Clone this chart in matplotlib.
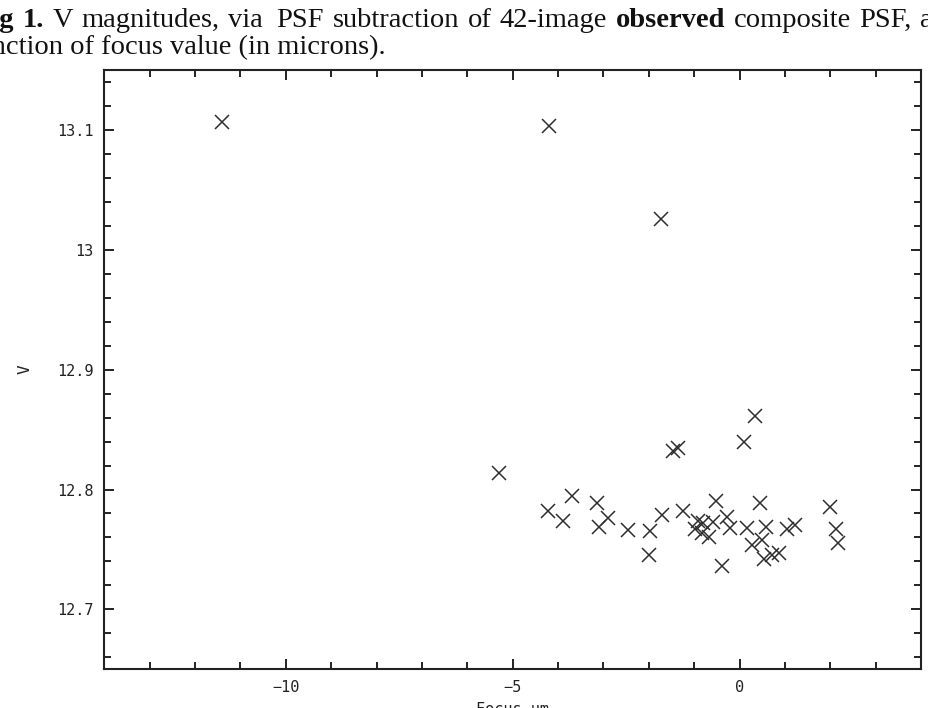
import matplotlib
matplotlib.use("Agg")
import matplotlib.pyplot as plt
from matplotlib.ticker import FixedLocator, FixedFormatter, MultipleLocator

# ---- data ----
focus = [-11.41, -4.20, -1.73, -5.30,
         -4.21, -3.90, -3.69, -3.15, -3.10, -2.89, -2.46, -1.97, -2.00,
         -1.71, -1.46, -1.36, -1.24,
         -0.92, -0.80, -0.98, -0.83, -0.67, -0.59,
         -0.52, -0.39, -0.28, -0.21, 0.10, 0.34, 0.17, 0.28, 0.46, 0.50,
         0.59, 0.53, 0.71, 0.86, 1.05, 1.23, 2.00, 2.12, 2.18]
vmag = [13.107, 13.103, 13.026, 12.814,
        12.782, 12.774, 12.795, 12.789, 12.769, 12.776, 12.766, 12.765, 12.745,
        12.779, 12.832, 12.835, 12.782,
        12.774, 12.772, 12.767, 12.764, 12.760, 12.773,
        12.790, 12.736, 12.777, 12.768, 12.840, 12.861, 12.768, 12.754, 12.789, 12.758,
        12.769, 12.742, 12.745, 12.747, 12.767, 12.770, 12.785, 12.767, 12.755]

x_ticks = [-10, -5, 0]
x_tick_labels = ["\u221210", "\u22125", "0"]
y_ticks = [12.7, 12.8, 12.9, 13.0, 13.1]
y_tick_labels = ["12.7", "12.8", "12.9", "13", "13.1"]

# caption words (justified first line, bold where the paper is bold)
title_words1 = [("Fig", "bold"), ("1.", "bold"), ("V", "normal"),
                ("magnitudes,", "normal"), ("via", "normal"), ("PSF", "normal"),
                ("subtraction", "normal"), ("of", "normal"), ("42-image", "normal"),
                ("observed", "bold"), ("composite", "normal"), ("PSF,", "normal"),
                ("as", "normal")]
title_line2 = "function of focus value (in microns)."

# ---- figure ----
W, H = 929, 708
fig = plt.figure(figsize=(W / 100, H / 100), dpi=100)
fig.patch.set_facecolor("white")

L, R, T, B = 104.3, 921.0, 70.0, 669.3
ax = fig.add_axes([L / W, 1 - B / H, (R - L) / W, (B - T) / H])
ax.plot(focus, vmag, linestyle="none", marker="x", ms=9.5, mew=1.1,
        color="#2e2e2e")
ax.set_xlim(-14, 4)
ax.set_ylim(12.65, 13.15)

mono = "DejaVu Sans Mono"
ax.xaxis.set_major_locator(FixedLocator(x_ticks))
ax.xaxis.set_major_formatter(FixedFormatter(x_tick_labels))
ax.xaxis.set_minor_locator(MultipleLocator(1))
ax.yaxis.set_major_locator(FixedLocator(y_ticks))
ax.yaxis.set_major_formatter(FixedFormatter(y_tick_labels))
ax.yaxis.set_minor_locator(MultipleLocator(0.02))
ax.tick_params(which="both", direction="in", top=True, right=True,
               width=1.4, color="#222222", labelcolor="#222222")
ax.tick_params(which="major", length=7.5)
ax.tick_params(which="minor", length=5)
ax.tick_params(axis="x", which="major", pad=8)
ax.tick_params(axis="y", which="major", pad=8)
for lab in ax.get_xticklabels() + ax.get_yticklabels():
    lab.set_family(mono)
    lab.set_fontsize(11)
for sp in ax.spines.values():
    sp.set_linewidth(1.5)
    sp.set_color("#222222")

# axis labels
fig.text(25 / W, 1 - 369 / H, "V", rotation=90, ha="center", va="center",
         family=mono, fontsize=11.5, color="#222222")
fig.text(((L + R) / 2) / W, 1 - 702 / H, "Focus \u03bcm", ha="center", va="top",
         family=mono, fontsize=11, color="#222222")

# caption text (cropped from a paper page)
serif = "Liberation Serif"
size = 20.5
renderer = fig.canvas.get_renderer()


def text_width(s, weight):
    p = fig.text(0, 0, s, fontsize=size, fontweight=weight, family=serif)
    w = p.get_window_extent(renderer).width
    p.remove()
    return w


widths = [text_width(s, w) for s, w in title_words1]
x_start = -text_width("Fi", "bold")
x_last = 920.0
gap_weights = [1.0] * (len(title_words1) - 1)
gap_weights[4] = 1.6   # the double space after "via"
gap_unit = (x_last - x_start - sum(widths[:-1])) / sum(gap_weights)
x = x_start
base1 = 27
for i, ((s, w), wd) in enumerate(zip(title_words1, widths)):
    fig.text(x / W, 1 - base1 / H, s, fontsize=size, fontweight=w,
             family=serif, va="baseline", ha="left", color="#111111")
    if i < len(gap_weights):
        x += wd + gap_unit * gap_weights[i]
fig.text(386 / W, 1 - 54 / H, title_line2, fontsize=size, family=serif,
         va="baseline", ha="right", color="#111111")

fig.savefig("out.png", dpi=100, facecolor="white")
